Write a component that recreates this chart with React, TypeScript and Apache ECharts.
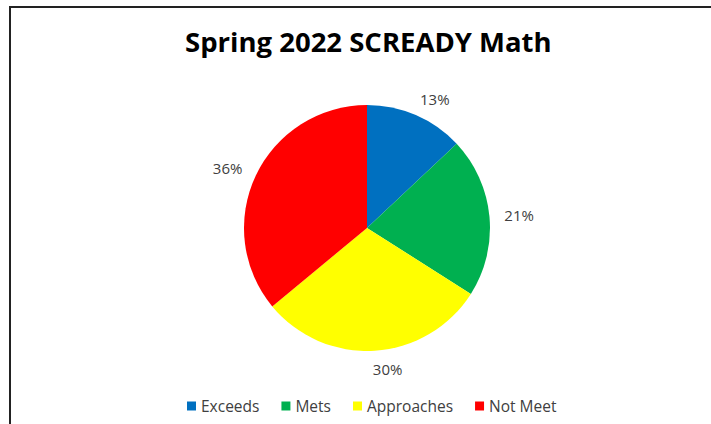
import React, { useEffect, useRef } from "react";
import * as echarts from "echarts";

const titleText = "Spring 2022 SCREADY Math";
const categories = ["Exceeds", "Mets", "Approaches", "Not Meet"];
const values = [13, 21, 30, 36];
const colors = ["#0070C0", "#00B050", "#FFFF00", "#FF0000"];

export default function App() {
  const ref = useRef<HTMLDivElement>(null);
  useEffect(() => {
    if (!ref.current) return;
    const chart = echarts.init(ref.current, null, { renderer: "svg" });
    chart.setOption({
      animation: false,
      backgroundColor: "#ffffff",
      title: {
        text: titleText,
        left: 180,
        top: 22,
        textStyle: {
          fontFamily: "Open Sans",
          fontWeight: "bold",
          fontSize: 27.5,
          color: "#000000",
        },
      },
      legend: {
        bottom: 5,
        left: 182,
        icon: "rect",
        itemWidth: 9,
        itemHeight: 9,
        itemGap: 22,
        data: categories,
        textStyle: {
          fontFamily: "Open Sans",
          fontSize: 15.5,
          color: "#404040",
        },
      },
      graphic: [
        {
          type: "rect",
          silent: true,
          shape: { x: 10, y: 7, width: 900, height: 600 },
          style: { fill: "none", stroke: "#222222", lineWidth: 2 },
        },
      ],
      series: [
        {
          type: "pie",
          center: [367, 228],
          radius: [0, 123],
          startAngle: 90,
          clockwise: true,
          silent: true,
          itemStyle: { borderWidth: 0 },
          label: {
            show: true,
            position: "outside",
            formatter: "{c}%",
            fontFamily: "Open Sans",
            fontSize: 15,
            color: "#404040",
            distanceToLabelLine: -3,
          },
          labelLine: { show: false, length: 18, length2: 0 },
          data: categories.map((name, i) => ({
            name,
            value: values[i],
            itemStyle: { color: colors[i] },
          })),
        },
      ],
    });
    return () => chart.dispose();
  }, []);
  return (
    <div
      ref={ref}
      style={{ position: "absolute", left: 0, top: 0, width: 711, height: 424 }}
    />
  );
}
